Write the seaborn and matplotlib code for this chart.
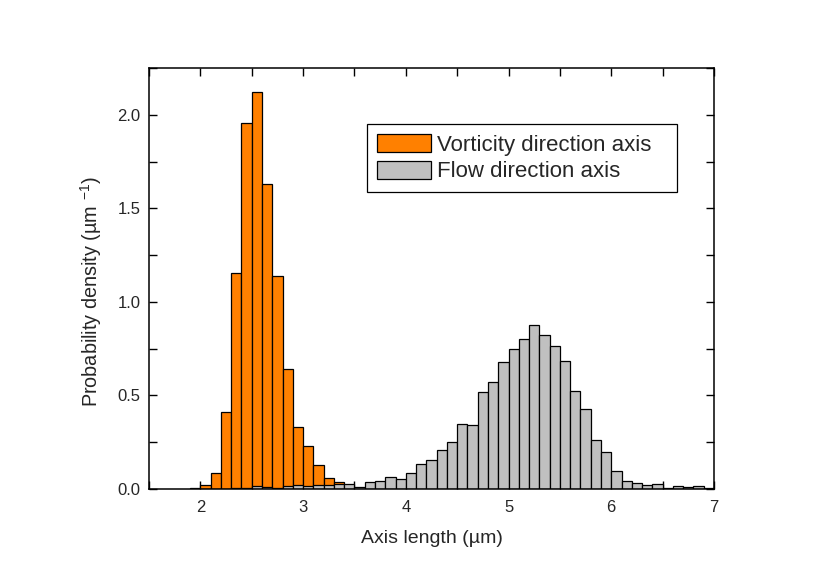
import numpy as np
import pandas as pd
import seaborn as sns
import matplotlib.pyplot as plt
from matplotlib.ticker import MultipleLocator

# bin layout (axis length, um), 0.1 um bins starting at 1.9
bin_start = 1.9
bin_width = 0.1

# probability density per bin
vorticity_density = [0.0, 0.022, 0.088, 0.41, 1.156, 1.956, 2.123, 1.632, 1.138,
                     0.642, 0.332, 0.229, 0.129, 0.056, 0.037]

flow_density = [0.005, 0.0, 0.0, 0.0, 0.003, 0.005, 0.017, 0.012, 0.005, 0.015,
                0.023, 0.017, 0.023, 0.023, 0.026, 0.026, 0.013, 0.039, 0.041, 0.062,
                0.051, 0.087, 0.131, 0.153, 0.211, 0.252, 0.350, 0.344, 0.519, 0.570,
                0.677, 0.748, 0.801, 0.874, 0.824, 0.762, 0.682, 0.526, 0.430, 0.261,
                0.195, 0.096, 0.041, 0.030, 0.021, 0.027, 0.005, 0.014, 0.009, 0.014,
                0.007]

labels = ["Vorticity direction axis", "Flow direction axis"]
colors = ["#FF8000", "#C0C0C0"]

sns.set_style("ticks")
plt.rcParams['font.family'] = ['Liberation Sans', 'DejaVu Sans']
plt.rcParams['mathtext.fontset'] = 'custom'
plt.rcParams['mathtext.rm'] = 'Liberation Sans'
plt.rcParams['mathtext.it'] = 'Liberation Sans:italic'


def to_frame(values):
    n = len(values)
    edges = bin_start + bin_width * np.arange(n + 1)
    df = pd.DataFrame({"length": edges[:-1] + bin_width / 2,
                       "density": np.asarray(values, dtype=float)})
    return df, edges.tolist()


fig = plt.figure(figsize=(8.3, 5.87), dpi=100)
ax = fig.add_axes([0.1795, 0.167, 0.6807, 0.717])

for values, label, color in zip([vorticity_density, flow_density], labels, colors):
    df, edges = to_frame(values)
    sns.histplot(data=df, x="length", weights="density", bins=edges, ax=ax,
                 color=color, alpha=1, edgecolor="black", linewidth=0.9,
                 label=label)

ax.set_xlim(1.5, 7)
ax.set_ylim(0, 2.25)
ax.xaxis.set_major_locator(MultipleLocator(1))
ax.xaxis.set_minor_locator(MultipleLocator(0.5))
ax.yaxis.set_major_locator(MultipleLocator(0.5))
ax.yaxis.set_minor_locator(MultipleLocator(0.25))
ax.yaxis.set_major_formatter(plt.FormatStrFormatter('%.1f'))
ax.tick_params(which="both", direction="in", top=True, right=True,
               labelsize=12, width=1, color="black", length=6)
ax.tick_params(axis="x", pad=8)
ax.tick_params(axis="y", pad=6)
for spine in ax.spines.values():
    spine.set_linewidth(1.1)
    spine.set_color("black")

ax.set_xlabel("Axis length (\u00b5m)", fontsize=14, labelpad=11)
ax.set_ylabel("Probability density (\u00b5m $^{-1}$)", fontsize=14.3)
ax.yaxis.set_label_coords(-0.079, 0.47)

# legend box spans a fixed width, top edge at 0.867 of the axes
leg = ax.legend(loc="upper left", bbox_to_anchor=(0.3858, 0.767, 0.5487, 0.1),
                mode="expand", fontsize=16,
                fancybox=False, edgecolor="black", framealpha=1,
                handlelength=2.45, handleheight=0.88, handletextpad=0.27,
                labelspacing=0.22, borderpad=0.45, borderaxespad=0)
leg.get_frame().set_linewidth(0.9)

fig.savefig("out.png", dpi=100)
